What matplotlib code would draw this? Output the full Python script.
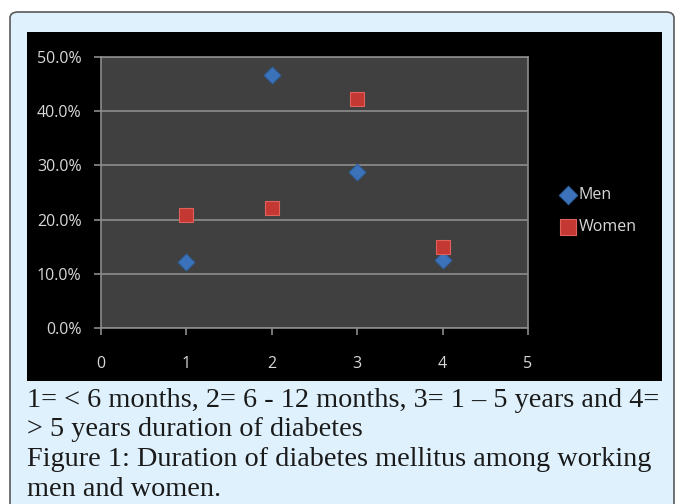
import matplotlib.pyplot as plt
from matplotlib.patches import FancyBboxPatch, Rectangle
from matplotlib.ticker import FuncFormatter

# duration category (1..4) and share of respondents
duration = [1, 2, 3, 4]
men = [12.1, 46.6, 28.7, 12.6]
women = [20.8, 22.1, 42.2, 14.9]

x_ticks = [0, 1, 2, 3, 4, 5]
y_ticks = [0, 10, 20, 30, 40, 50]

caption = [
    "1= < 6 months, 2= 6 - 12 months, 3= 1 \u2013 5 years and 4=",
    "> 5 years duration of diabetes",
    "Figure 1: Duration of diabetes mellitus among working",
    "men and women.",
]

W, H = 676, 504
fig = plt.figure(figsize=(W / 100, H / 100), dpi=100)
fig.patch.set_facecolor("white")

# light blue frame with rounded corners
box = FancyBboxPatch((10 / W, -0.05), 664 / W, 1.05 - 12 / H,
                     boxstyle="round,pad=0,rounding_size=0.012",
                     transform=fig.transFigure, facecolor="#dff1fc",
                     edgecolor="#5a5a5a", linewidth=1.2, zorder=-2)
fig.patches.append(box)

# black chart canvas
canvas = Rectangle((27 / W, 1 - 381 / H), 635 / W, 349 / H,
                   transform=fig.transFigure, facecolor="black",
                   edgecolor="none", zorder=-1)
fig.patches.append(canvas)

ax = fig.add_axes([101 / W, 1 - 328 / H, 427 / W, 271 / H])
ax.set_facecolor("#404040")

ax.scatter(duration, men, marker="D", s=75, color="#3b72b9",
           edgecolor="#2c5e9c", linewidth=0.6, label="Men", zorder=3)
ax.scatter(duration, women, marker="s", s=105, color="#c43833",
           edgecolor="#e0605c", linewidth=0.8, label="Women", zorder=3)

ax.set_xlim(0, 5)
ax.set_ylim(0, 50)
ax.set_xticks(x_ticks)
ax.set_yticks(y_ticks)
ax.yaxis.set_major_formatter(FuncFormatter(lambda v, _: f"{v:.1f}%"))
ax.grid(axis="y", color="#8c8c8c", linewidth=1.2, zorder=1)
ax.set_axisbelow(True)

for s in ax.spines.values():
    s.set_color("#8c8c8c")
    s.set_linewidth(1.2)

ax.tick_params(axis="x", colors="#8c8c8c", length=5, width=1.2, pad=15,
               labelcolor="#d8d8d8", labelsize=11.5)
ax.tick_params(axis="y", colors="#8c8c8c", length=5, width=1.2, pad=9,
               labelcolor="#d8d8d8", labelsize=11.5)
for lab in ax.get_xticklabels() + ax.get_yticklabels():
    lab.set_family("Open Sans")

leg = ax.legend(loc="center left", bbox_to_anchor=(1.06, 0.43), frameon=False,
                handletextpad=0.15, handlelength=1.0, labelspacing=1.0,
                markerscale=1.1, borderaxespad=0,
                prop={"family": "Open Sans", "size": 11.5})
for t in leg.get_texts():
    t.set_color("#d8d8d8")

for i, line in enumerate(caption):
    fig.text(27 / W, 1 - (407 + 29.5 * i) / H, line, ha="left", va="baseline",
             fontsize=20.3, family="Liberation Serif", color="#1a1a1a")

fig.savefig("out.png", dpi=100, facecolor="white")
